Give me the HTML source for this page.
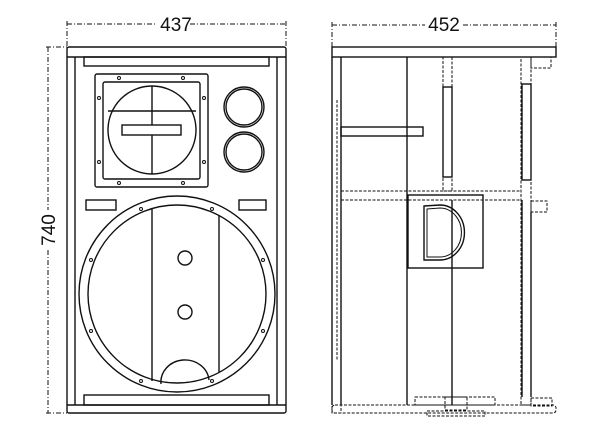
<!DOCTYPE html>
<html><head><meta charset="utf-8"><style>
html,body{margin:0;padding:0;background:#fff;width:600px;height:438px;overflow:hidden}
svg{display:block}
text{font-family:"Liberation Sans",sans-serif;fill:#111}
</style></head><body>
<svg width="600" height="438" viewBox="0 0 600 438" xmlns="http://www.w3.org/2000/svg">
<g fill="none" stroke="#111" stroke-width="1.4">
<g stroke-dasharray="5,2,1,2" stroke-width="1">
<line x1="67" y1="24" x2="155" y2="24"/><line x1="190" y1="24" x2="286" y2="24"/>
<line x1="67" y1="21" x2="67" y2="47"/><line x1="286" y1="21" x2="286" y2="47"/>
<line x1="48" y1="47" x2="48" y2="210"/><line x1="48" y1="250" x2="48" y2="413"/>
<line x1="46" y1="47" x2="67" y2="47"/><line x1="46" y1="413" x2="67" y2="413"/>
</g>
<rect x="67" y="47" width="219" height="366" rx="2"/>
<line x1="67" y1="57" x2="286" y2="57"/>
<line x1="67" y1="405" x2="286" y2="405"/>
<line x1="75" y1="57" x2="75" y2="405"/>
<line x1="277" y1="57" x2="277" y2="405"/>
<rect x="84" y="57" width="185" height="9"/>
<rect x="84" y="395" width="185" height="10"/>
<rect x="95" y="74" width="113" height="113" rx="2"/>
<rect x="103" y="82" width="97" height="97" rx="2"/>
<circle cx="152" cy="130" r="44"/>
<line x1="152" y1="86" x2="152" y2="174"/>
<line x1="108" y1="111" x2="196" y2="111"/>
<rect x="122" y="125" width="59" height="10" fill="#fff"/>
<g stroke-width="1"><circle cx="119" cy="78" r="1.5"/><circle cx="183" cy="78" r="1.5"/><circle cx="119" cy="183" r="1.5"/><circle cx="183" cy="183" r="1.5"/><circle cx="99" cy="98" r="1.5"/><circle cx="99" cy="162" r="1.5"/><circle cx="204" cy="98" r="1.5"/><circle cx="204" cy="162" r="1.5"/></g>
<circle cx="244" cy="107" r="20"/><circle cx="244" cy="107" r="18"/>
<circle cx="244" cy="152" r="20"/><circle cx="244" cy="152" r="18"/>
<rect x="86" y="200" width="30" height="10"/>
<rect x="239" y="200" width="27" height="10"/>
<circle cx="177" cy="294" r="98"/>
<circle cx="177" cy="294" r="89"/>
<line x1="152" y1="209" x2="152" y2="381"/>
<line x1="219" y1="215" x2="219" y2="372"/>
<circle cx="185" cy="258" r="7"/><circle cx="185" cy="312" r="7"/>
<path d="M161 384 A24 22 0 0 1 209 380"/>
<g stroke-width="1"><circle cx="141" cy="209" r="1.5"/><circle cx="212" cy="209" r="1.5"/><circle cx="91" cy="260" r="1.5"/><circle cx="263" cy="260" r="1.5"/><circle cx="91" cy="331" r="1.5"/><circle cx="263" cy="331" r="1.5"/><circle cx="141" cy="381" r="1.5"/><circle cx="212" cy="381" r="1.5"/></g>

<g stroke-dasharray="5,2,1,2" stroke-width="1">
<line x1="332" y1="25" x2="425" y2="25"/><line x1="463" y1="25" x2="556" y2="25"/>
<line x1="332" y1="22" x2="332" y2="47"/><line x1="556" y1="22" x2="556" y2="57"/>
</g>
<rect x="332" y="47" width="224" height="10"/>
<g stroke-dasharray="3,1.5" stroke-width="1">
<rect x="332" y="57" width="9" height="356"/>
<line x1="341" y1="57" x2="521" y2="57"/>
<rect x="443" y="57" width="9" height="134"/>
<rect x="521" y="57" width="10" height="348"/>
<rect x="531" y="57" width="20" height="11"/>
<line x1="341" y1="191" x2="521" y2="191"/>
<line x1="341" y1="200" x2="521" y2="200"/>
<rect x="531" y="201" width="16" height="11"/>
<rect x="332" y="405" width="224" height="8" rx="3"/>
<rect x="415" y="397" width="80" height="8"/>
<rect x="445" y="397" width="22" height="13"/>
<rect x="427" y="411" width="58" height="5"/>
<rect x="531" y="398" width="21" height="8"/>
<line x1="337" y1="100" x2="337" y2="360"/>
</g>
<line x1="332" y1="57" x2="332" y2="405"/>
<line x1="341" y1="57" x2="341" y2="405"/>
<line x1="407" y1="57" x2="407" y2="405"/>
<line x1="452" y1="200" x2="452" y2="405"/>
<rect x="443" y="87" width="9" height="90"/>
<rect x="522" y="84" width="9" height="96"/>
<line x1="522" y1="200" x2="522" y2="397"/>
<line x1="531" y1="212" x2="531" y2="397"/>
<rect x="341" y="127" width="82" height="9"/>
<rect x="408" y="195" width="75" height="73"/>
<path d="M424 206 L440 205 A24 27 0 0 1 440 260 L424 260 Z"/>
<path d="M427 209 L440 208 A21 24 0 0 1 440 257 L427 257 Z" stroke-width="1"/>
</g>
<text x="176" y="31" font-size="19" text-anchor="middle">437</text>
<text x="444" y="31" font-size="19" text-anchor="middle">452</text>
<text transform="translate(55,230) rotate(-90)" font-size="19" text-anchor="middle">740</text>
</svg>
</body></html>
